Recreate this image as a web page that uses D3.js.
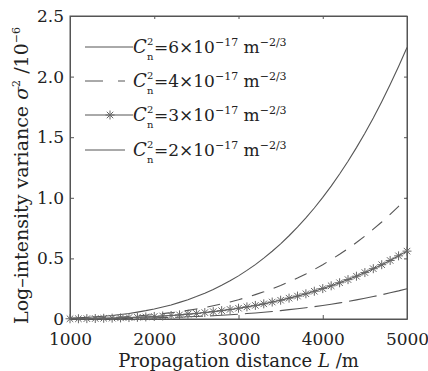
<!DOCTYPE html>
<html>
<head>
<meta charset="utf-8">
<script src="https://cdn.jsdelivr.net/npm/d3@7"></script>
<style>
  body { margin: 0; background: #fff; }
  text { font-family: "DejaVu Serif", "Liberation Serif", serif; fill: #222; }
</style>
</head>
<body>
<div id="chart"></div>
<script>
// propagation distance (m), one point every 100 m
const distance = d3.range(1000, 5001, 100)

// log-intensity variance (x 10^-6)
const cn6 = [0.007,0.010,0.013,0.018,0.023,0.029,0.037,0.046,0.057,0.069,0.083,0.099,0.116,0.137,0.159,0.185,0.213,0.244,0.278,0.315,0.356,0.401,0.449,0.502,0.559,0.620,0.687,0.758,0.834,0.916,1.003,1.096,1.196,1.301,1.414,1.533,1.659,1.793,1.934,2.083,2.240]
const cn4 = [0.003,0.004,0.006,0.008,0.010,0.013,0.017,0.021,0.025,0.031,0.037,0.044,0.052,0.061,0.071,0.083,0.095,0.109,0.124,0.141,0.159,0.179,0.201,0.224,0.250,0.277,0.307,0.338,0.372,0.409,0.448,0.490,0.534,0.581,0.631,0.684,0.741,0.800,0.863,0.930,1.000]
const cn3 = [0.002,0.002,0.003,0.004,0.006,0.007,0.009,0.012,0.014,0.017,0.021,0.025,0.029,0.034,0.040,0.046,0.053,0.061,0.069,0.079,0.089,0.100,0.112,0.125,0.140,0.155,0.172,0.189,0.208,0.229,0.251,0.274,0.299,0.325,0.353,0.383,0.415,0.448,0.483,0.521,0.560]
const cn2 = [0.001,0.001,0.001,0.002,0.003,0.003,0.004,0.005,0.006,0.008,0.009,0.011,0.013,0.015,0.018,0.021,0.024,0.027,0.031,0.035,0.040,0.045,0.050,0.056,0.062,0.069,0.077,0.085,0.093,0.102,0.112,0.122,0.133,0.145,0.158,0.171,0.185,0.200,0.216,0.232,0.250]

const legendCoef = ["6", "4", "3", "2"]
const xTicks = [1000, 2000, 3000, 4000, 5000]
const yTicks = [0, 0.5, 1.0, 1.5, 2.0, 2.5]

const margin = {top: 16, right: 21, bottom: 52, left: 70},
    width = 428 - margin.left - margin.right,
    height = 371 - margin.top - margin.bottom

const svg = d3.select("#chart")
    .append("svg")
    .attr("width", 428)
    .attr("height", 371)
    .append("g")
    .attr("transform", `translate(${margin.left}, ${margin.top})`)

const x = d3.scaleLinear().domain([1000, 5000]).range([0, width])
const y = d3.scaleLinear().domain([0, 2.5]).range([height, 0])

const lineCol = "#555"

// frame
svg.append("rect")
    .attr("width", width).attr("height", height)
    .attr("fill", "none").attr("stroke", "#555").attr("stroke-width", 1)

// axes with inward ticks
const xAxis = svg.append("g")
    .attr("transform", `translate(0, ${height})`)
    .call(d3.axisBottom(x).tickValues(xTicks).tickSizeInner(-4).tickSizeOuter(0).tickPadding(14).tickFormat(d3.format("d")))
const yAxis = svg.append("g")
    .call(d3.axisLeft(y).tickValues(yTicks).tickSizeInner(-4).tickSizeOuter(0).tickPadding(6)
        .tickFormat(d => d === 0 ? "0" : d3.format(".1f")(d)))
svg.append("g")
    .call(d3.axisTop(x).tickValues(xTicks).tickSizeInner(-3).tickSizeOuter(0).tickFormat(""))
svg.append("g")
    .attr("transform", `translate(${width}, 0)`)
    .call(d3.axisRight(y).tickValues(yTicks).tickSizeInner(-3).tickSizeOuter(0).tickFormat(""))

svg.selectAll(".domain").attr("stroke", "#555")
svg.selectAll(".tick line").attr("stroke", "#555")
xAxis.selectAll("text").style("font-size", "17px").attr("fill", "#222")
yAxis.selectAll("text").style("font-size", "17px").attr("fill", "#222")

// curves
const line = d3.line()
    .x((d, i) => x(distance[i]))
    .y(d => y(d))

const series = [
    {vals: cn6, dash: null},
    {vals: cn4, dash: "13,10"},
    {vals: cn3, dash: null},
    {vals: cn2, dash: "28,7"}
]

svg.selectAll("path.curve")
    .data(series)
    .join("path")
    .attr("class", "curve")
    .attr("d", d => line(d.vals))
    .attr("fill", "none")
    .attr("stroke", lineCol)
    .attr("stroke-width", 1.1)
    .attr("stroke-dasharray", d => d.dash)

// asterisk marker
function star(g, r) {
    const a = r * 0.72
    g.append("path")
        .attr("d", `M${-r},0L${r},0M0,${-r}L0,${r}M${-a},${-a}L${a},${a}M${-a},${a}L${a},${-a}`)
        .attr("stroke", "#666")
        .attr("stroke-width", 1)
        .attr("fill", "none")
}

svg.selectAll("g.star")
    .data(cn3)
    .join("g")
    .attr("class", "star")
    .attr("transform", (d, i) => `translate(${x(distance[i])}, ${y(d)})`)
    .each(function() { star(d3.select(this), 4.5) })

// legend
const legend = svg.append("g").attr("transform", `translate(${85 - margin.left}, 0)`)
const rowY = [31, 65, 99, 134]

legendCoef.forEach((c, i) => {
    const row = legend.append("g").attr("transform", `translate(0, ${rowY[i]})`)
    const lineEnd = (i === 1 || i === 3) ? 40 : 48
    row.append("line")
        .attr("x1", 0).attr("x2", lineEnd).attr("y1", 0).attr("y2", 0)
        .attr("stroke", lineCol).attr("stroke-width", 1)
        .attr("stroke-dasharray", i === 1 ? "18,15" : null)
    if (i === 2) star(row.append("g").attr("transform", "translate(25, 0)"), 4.5)

    const tx = 48
    row.append("text").attr("x", tx).attr("y", 6)
        .style("font-size", "18px").style("font-style", "italic").text("C")
    row.append("text").attr("x", tx + 14).attr("y", -2)
        .style("font-size", "10px").text("2")
    row.append("text").attr("x", tx + 14).attr("y", 13)
        .style("font-size", "10px").text("n")
    const t = row.append("text").attr("x", tx + 21).attr("y", 6).style("font-size", "17px")
    t.append("tspan").text(`=${c}×10`)
    t.append("tspan").attr("dy", -7).style("font-size", "11px").text("−17")
    t.append("tspan").attr("dy", 7).text(" m")
    t.append("tspan").attr("dy", -7).style("font-size", "11px").text("−2/3")
})

// axis titles
const xl = svg.append("text")
    .attr("x", width / 2)
    .attr("y", height + 48)
    .attr("text-anchor", "middle")
    .style("font-size", "18px")
xl.append("tspan").text("Propagation distance ")
xl.append("tspan").style("font-style", "italic").text("L")
xl.append("tspan").text(" /m")

const yl = svg.append("text")
    .attr("transform", `translate(${-42}, ${height / 2 + 8}) rotate(-90)`)
    .attr("text-anchor", "middle")
    .style("font-size", "19px")
yl.append("tspan").text("Log–intensity variance ")
yl.append("tspan").style("font-style", "italic").text("σ")
yl.append("tspan").attr("dy", -8).style("font-size", "11px").text("2")
yl.append("tspan").attr("dy", 8).text(" /10")
yl.append("tspan").attr("dy", -8).style("font-size", "11px").text("−6")
</script>
</body>
</html>
